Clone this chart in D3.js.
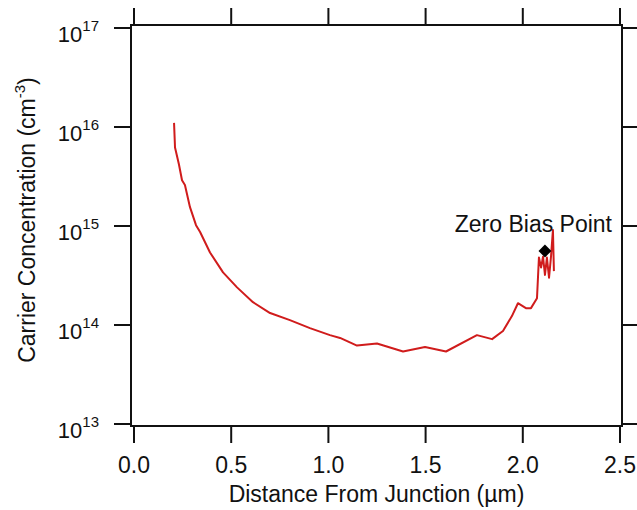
<!DOCTYPE html>
<html>
<head>
<meta charset="utf-8">
<script src="https://cdn.jsdelivr.net/npm/d3@7"></script>
<style>
  html, body { margin: 0; padding: 0; background: #fff; }
  svg { display: block; font-family: "Liberation Sans", Arial, sans-serif; }
</style>
</head>
<body>
<svg id="chart" width="637" height="510"></svg>
<script>
// Carrier concentration profile vs. distance from the junction
const distance = [0.206, 0.211, 0.231, 0.247, 0.262, 0.288, 0.319, 0.340, 0.391, 0.458,
  0.530, 0.612, 0.700, 0.802, 0.905, 1.008, 1.060, 1.147, 1.250, 1.384,
  1.497, 1.605, 1.764, 1.842, 1.898, 1.944, 1.975, 2.016, 2.042, 2.073,
  2.083, 2.094, 2.104, 2.114, 2.124, 2.135, 2.145, 2.155, 2.160];
const concentration = [1.10e16, 6.2e15, 4.2e15, 2.9e15, 2.6e15, 1.55e15, 1.02e15, 8.7e14, 5.4e14, 3.4e14,
  2.4e14, 1.7e14, 1.32e14, 1.12e14, 9.3e13, 7.9e13, 7.4e13, 6.2e13, 6.5e13, 5.4e13,
  6.0e13, 5.4e13, 7.9e13, 7.2e13, 8.7e13, 1.23e14, 1.66e14, 1.48e14, 1.48e14, 1.86e14,
  4.8e14, 3.8e14, 4.9e14, 3.2e14, 4.8e14, 3.0e14, 4.9e14, 9.1e14, 3.5e14];

// Zero-bias operating point
const zeroBiasX = [2.114];
const zeroBiasN = [5.6e14];
const zeroBiasLabel = "Zero Bias Point";

// Axis ticks
const xTicks = [0.0, 0.5, 1.0, 1.5, 2.0, 2.5];
const yExponents = [13, 14, 15, 16, 17];

const svg = d3.select("#chart");
const x = d3.scaleLinear().domain([0, 2.5]).range([134, 620]);
const y = d3.scaleLog().domain([1e13, 1e17]).range([424, 28]);

const frame = { left: 131, right: 622, top: 25, bottom: 426 };
const ink = "#111";

// Plot frame
svg.append("rect")
  .attr("x", frame.left).attr("y", frame.top)
  .attr("width", frame.right - frame.left)
  .attr("height", frame.bottom - frame.top)
  .attr("fill", "none").attr("stroke", ink).attr("stroke-width", 2);

// Outward ticks on all four sides
const ticks = svg.append("g").attr("stroke", ink).attr("stroke-width", 2);
xTicks.forEach(v => {
  ticks.append("line").attr("x1", x(v)).attr("x2", x(v)).attr("y1", frame.bottom).attr("y2", frame.bottom + 17);
  ticks.append("line").attr("x1", x(v)).attr("x2", x(v)).attr("y1", frame.top).attr("y2", frame.top - 17);
});
yExponents.forEach(e => {
  const py = y(Math.pow(10, e));
  ticks.append("line").attr("x1", frame.left).attr("x2", frame.left - 17).attr("y1", py).attr("y2", py);
  ticks.append("line").attr("x1", frame.right).attr("x2", frame.right + 17).attr("y1", py).attr("y2", py);
});

// X tick labels
svg.append("g").selectAll("text").data(xTicks).join("text")
  .attr("x", d => x(d)).attr("y", 473)
  .attr("text-anchor", "middle")
  .attr("font-size", 23).attr("fill", ink)
  .text(d => d3.format(".1f")(d));

// Y tick labels as powers of ten
const yl = svg.append("g").selectAll("text").data(yExponents).join("text")
  .attr("x", 99).attr("y", d => y(Math.pow(10, d)) + 14)
  .attr("text-anchor", "end")
  .attr("font-size", 22).attr("fill", ink);
yl.append("tspan").text("10");
yl.append("tspan").attr("dy", -11).attr("font-size", 15).text(d => d);

// Axis titles
svg.append("text")
  .attr("x", (frame.left + frame.right) / 2).attr("y", 502)
  .attr("text-anchor", "middle").attr("font-size", 23).attr("fill", ink)
  .text("Distance From Junction (µm)");

const yt = svg.append("text")
  .attr("transform", "translate(35,220) rotate(-90)")
  .attr("text-anchor", "middle").attr("font-size", 23).attr("fill", ink);
yt.append("tspan").text("Carrier Concentration (cm");
yt.append("tspan").attr("dy", -10).attr("font-size", 15).text("-3");
yt.append("tspan").attr("dy", 10).text(")");

// Profile line
const line = d3.line()
  .x((d, i) => x(distance[i]))
  .y((d, i) => y(concentration[i]));
svg.append("path")
  .datum(distance)
  .attr("d", line)
  .attr("fill", "none")
  .attr("stroke", "#d01c1c")
  .attr("stroke-width", 2)
  .attr("stroke-linejoin", "round");

// Zero-bias marker and label
svg.append("g").selectAll("path").data(zeroBiasX).join("path")
  .attr("d", d3.symbol().type(d3.symbolSquare).size(84))
  .attr("transform", (d, i) => `translate(${x(d)},${y(zeroBiasN[i])}) rotate(45)`)
  .attr("fill", "#000");

svg.append("text")
  .attr("x", 612).attr("y", 232)
  .attr("text-anchor", "end").attr("font-size", 23).attr("fill", ink)
  .text(zeroBiasLabel);
</script>
</body>
</html>
